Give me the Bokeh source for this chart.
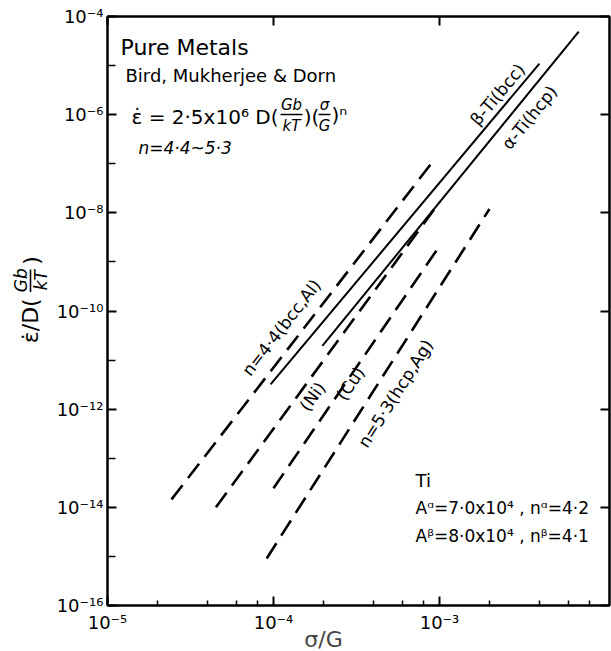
import math
from bokeh.plotting import figure
from bokeh.layouts import row
from bokeh.models import LogAxis, FixedTicker, CustomJSTickFormatter, Label, Arrow
from bokeh.embed import file_html
from bokeh.resources import INLINE

# ---------------- data ----------------
series = ["n=4·4(bcc,Al)", "β-Ti(bcc)", "α-Ti(hcp)", "(Ni)", "(Cu)", "n=5·3(hcp,Ag)"]
x_lo = [2.43e-5, 9.6e-5, 1.97e-4, 4.5e-5, 1.0e-4, 9.1e-5]
x_hi = [9.1e-4, 4.0e-3, 6.9e-3, 1.0e-3, 1.0e-3, 2.0e-3]
y_lo = [1.45e-14, 3.2e-12, 1.95e-11, 1.0e-14, 2.45e-14, 9.1e-16]
y_hi = [1.1e-7, 1.1e-5, 4.9e-5, 1.66e-8, 2.1e-9, 1.2e-8]
dashed = [True, False, False, True, True, True]

x_major = [1e-5, 1e-4, 1e-3]
x_minor = [2e-5, 4e-5, 6e-5, 8e-5, 2e-4, 4e-4, 6e-4, 8e-4, 2e-3, 4e-3, 6e-3, 8e-3]
y_major = [1e-16, 1e-14, 1e-12, 1e-10, 1e-8, 1e-6, 1e-4]
y_minor = [1e-15, 1e-13, 1e-11, 1e-9, 1e-7, 1e-5]

# ---------------- layout ----------------
W, H = 611, 651
LW = 50                    # width of the strip holding the y-axis title
FL, FT = 107, 16           # frame left/top on the page
FW, FH = 502, 589
XPPD = 166.0               # px per decade (x)
YPPD = FH / 12.0           # px per decade (y)
x_end = 10 ** (-5 + FW / XPPD)

def at(px, py):
    return 10 ** (-5 + (px - FL) / XPPD), 10 ** (-4 - (py - FT) / YPPD)

FONT = "DejaVu Sans"

p = figure(x_axis_type="log", y_axis_type="log",
           x_range=(1e-5, x_end), y_range=(1e-16, 1e-4),
           frame_width=FW, frame_height=FH,
           min_border_left=FL - LW, min_border_right=W - FL - FW, min_border_top=FT,
           min_border_bottom=H - FT - FH,
           output_backend="svg", toolbar_location=None)
p.grid.visible = False
p.outline_line_color = "black"
p.outline_line_width = 2
p.background_fill_color = "white"
p.border_fill_color = "white"

fmt = CustomJSTickFormatter(code="""
const e = Math.round(Math.log10(tick));
const m = {'-':'\\u207B','0':'\\u2070','1':'\\u00B9','2':'\\u00B2','3':'\\u00B3','4':'\\u2074',
           '5':'\\u2075','6':'\\u2076','7':'\\u2077','8':'\\u2078','9':'\\u2079'};
return '10' + String(e).split('').map(c => m[c]).join('');
""")

for ax, maj, mnr, mlen in ((p.xaxis[0], x_major, x_minor, 5), (p.yaxis[0], y_major, y_minor, 8)):
    ax.ticker = FixedTicker(ticks=maj, minor_ticks=mnr)
    ax.formatter = fmt
    ax.axis_line_width = 2
    ax.major_tick_in = 9
    ax.major_tick_out = 0
    ax.minor_tick_in = mlen
    ax.minor_tick_out = 0
    ax.major_tick_line_width = 2
    ax.minor_tick_line_width = 1.5
    ax.major_label_text_font = FONT
    ax.major_label_text_font_size = "18px"
    ax.major_label_text_color = "black"

p.yaxis[0].major_label_standoff = 4
p.xaxis[0].major_label_standoff = 6
# x-axis title (trailing no-break spaces move its centre left, as in the reference)
p.xaxis[0].axis_label = "σ/G" + "\u00a0" * 10
p.xaxis[0].axis_label_text_font = FONT
p.xaxis[0].axis_label_text_font_style = "normal"
p.xaxis[0].axis_label_text_font_size = "22px"
p.xaxis[0].axis_label_standoff = -9

blank = CustomJSTickFormatter(code="return ' ';")
top = LogAxis(ticker=FixedTicker(ticks=x_major, minor_ticks=[]), formatter=blank,
              major_label_text_font_size="2px", major_label_text_alpha=0.0,
              major_label_standoff=0, major_tick_in=9, major_tick_out=0, minor_tick_in=0,
              minor_tick_out=0, axis_line_width=2, major_tick_line_width=2)
right = LogAxis(ticker=FixedTicker(ticks=y_major, minor_ticks=[]), formatter=blank,
                major_label_text_font_size="2px", major_label_text_alpha=0.0,
                major_label_standoff=0, major_tick_in=9, major_tick_out=0, minor_tick_in=0,
                minor_tick_out=0, axis_line_width=2, major_tick_line_width=2)
p.add_layout(top, "above")
p.add_layout(right, "right")

# ---------------- lines ----------------
for i in range(len(series)):
    p.line([x_lo[i], x_hi[i]], [y_lo[i], y_hi[i]], line_color="black",
           line_width=2.6 if dashed[i] else 2.0,
           line_dash="18 9" if dashed[i] else "solid")

# line labels (centre positions in page px)
label_pos = [(281, 327), (497, 94), (529, 117), (312, 396), (350, 383), (395, 393)]
for i, (lx, ly) in enumerate(label_pos):
    ang = math.atan2(math.log10(y_hi[i] / y_lo[i]) * YPPD, math.log10(x_hi[i] / x_lo[i]) * XPPD)
    X, Y = at(lx, ly)
    p.add_layout(Label(x=X, y=Y, text=series[i], angle=ang, text_align="center",
                       text_baseline="middle", text_font=FONT, text_font_size="17px",
                       text_color="black"))

def txt(s, px, py, size="16px", align="left", angle=0.0, style="normal"):
    X, Y = at(px, py)
    p.add_layout(Label(x=X, y=Y, text=s, angle=angle, text_align=align, text_baseline="middle",
                       text_font=FONT, text_font_size=size, text_font_style=style,
                       text_color="black"))

def bar(x0, y0, x1, y1, w=1.6):
    X0, Y0 = at(x0, y0)
    X1, Y1 = at(x1, y1)
    p.add_layout(Arrow(start=None, end=None, x_start=X0, y_start=Y0, x_end=X1, y_end=Y1,
                       line_width=w, line_color="black"))

# top-left annotation
txt("Pure Metals", 120, 47, size="22px")
txt("Bird, Mukherjee & Dorn", 125, 75, size="18px")
txt("ε̇ = 2·5x10⁶ D(", 131, 116, size="20px")
txt("Gb", 291, 104, size="15px", align="center", style="italic")
bar(280, 114, 302, 114)
txt("kT", 291, 125, size="15px", align="center", style="italic")
txt(")(", 311, 116, size="20px", align="center")
txt("σ", 324, 104, size="15px", align="center", style="italic")
bar(318, 114, 330, 114)
txt("G", 324, 125, size="15px", align="center", style="italic")
txt(")ⁿ", 331, 114, size="20px")
txt("n=4·4~5·3", 138, 147, size="17px", style="italic")

# Ti block
txt("Ti", 415, 480, size="18px")
txt("Aᵅ=7·0x10⁴ , nᵅ=4·2", 415, 507, size="17px")
txt("Aᵝ=8·0x10⁴ , nᵝ=4·1", 415, 535, size="17px")

# ---------------- y-axis title strip (page px coordinates) ----------------
fy = figure(width=LW, height=H, x_range=(0, LW), y_range=(0, H), min_border=0,
            x_axis_location=None, y_axis_location=None,
            output_backend="svg", toolbar_location=None)
fy.grid.visible = False
fy.outline_line_color = None
fy.background_fill_color = "white"
fy.border_fill_color = "white"

def ytxt(s, px, py, size, style="normal"):
    fy.add_layout(Label(x=px, y=H - py, text=s, angle=math.pi / 2, text_align="center",
                        text_baseline="middle", text_font=FONT, text_font_size=size,
                        text_font_style=style, text_color="black"))

ytxt("ε̇/D(", 30, 338, "22px")
ytxt("Gb", 20, 293, "17px", style="italic")
ytxt("kT", 40, 293, "17px", style="italic")
ytxt(")", 31, 271, "22px")
fy.add_layout(Arrow(start=None, end=None, x_start=30, y_start=H - 281, x_end=30, y_end=H - 306,
                    line_width=1.6, line_color="black"))

layout = row(fy, p)
open("out.html", "w").write(file_html(layout, INLINE))
